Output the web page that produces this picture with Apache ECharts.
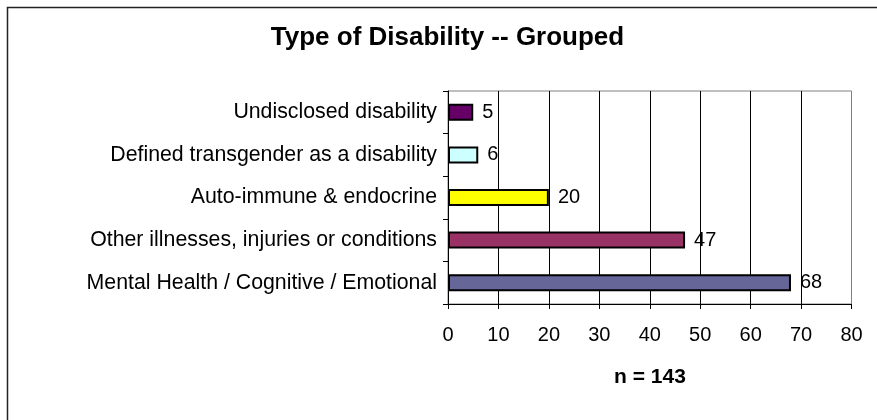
<!DOCTYPE html>
<html><head><meta charset="utf-8">
<script src="https://cdn.jsdelivr.net/npm/echarts@6/dist/echarts.min.js"></script>
<style>html,body{margin:0;padding:0;background:#fff}#c{width:877px;height:420px}</style>
</head><body><div id="c"></div>
<script>
const categories = ["Mental Health / Cognitive / Emotional", "Other illnesses, injuries or conditions", "Auto-immune & endocrine", "Defined transgender as a disability", "Undisclosed disability"];
const values = [68, 47, 20, 6, 5];
const barColors = ["#666699", "#993366", "#FFFF00", "#CCFFFF", "#660066"];
const xTicks = [0, 10, 20, 30, 40, 50, 60, 70, 80];
const titleText = "Type of Disability -- Grouped";
const noteText = "n = 143";

const FONT = "Arial, 'Liberation Sans', sans-serif";
const chart = echarts.init(document.getElementById('c'), null, {renderer: 'canvas'});
chart.setOption({
  animation: false,
  backgroundColor: '#fff',
  grid: {left: 448, right: 25.5, top: 91, bottom: 116, show: true, borderColor: '#808080', borderWidth: 1, backgroundColor: 'transparent'},
  xAxis: {
    type: 'value', min: xTicks[0], max: xTicks[xTicks.length - 1], interval: 10,
    axisLine: {show: true, lineStyle: {color: '#000', width: 1}},
    axisTick: {show: true, inside: false, length: 5, lineStyle: {color: '#000'}},
    axisLabel: {color: '#000', fontSize: 20, fontFamily: FONT, margin: 21},
    splitLine: {show: true, showMinLine: false, showMaxLine: false, lineStyle: {color: '#000', width: 1}}
  },
  yAxis: {
    type: 'category', data: categories,
    axisLine: {show: true, lineStyle: {color: '#000', width: 1}},
    axisTick: {show: true, inside: false, length: 5, alignWithLabel: false, lineStyle: {color: '#000'}},
    axisLabel: {color: '#000', fontSize: 21.3, fontFamily: FONT, margin: 11},
    splitLine: {show: false}
  },
  series: [{
    type: 'bar', barWidth: 17,
    data: values.map((v, i) => ({value: v, itemStyle: {color: barColors[i]}})),
    itemStyle: {borderColor: '#000', borderWidth: 2},
    label: {show: true, position: 'right', distance: 9, color: '#000', fontSize: 20, fontFamily: FONT}
  }],
  graphic: [
    {type: 'rect', shape: {x: 7.5, y: 7.5, width: 900, height: 450}, style: {fill: 'none', stroke: '#222', lineWidth: 1.5}, z: 100},
    {type: 'text', x: 447.5, y: 38, style: {text: titleText, font: "bold 26px " + FONT, fill: '#000', textAlign: 'center', textVerticalAlign: 'middle'}},
    {type: 'text', x: 650, y: 377, style: {text: noteText, font: "bold 21px " + FONT, fill: '#000', textAlign: 'center', textVerticalAlign: 'middle'}}
  ]
});
</script></body></html>
